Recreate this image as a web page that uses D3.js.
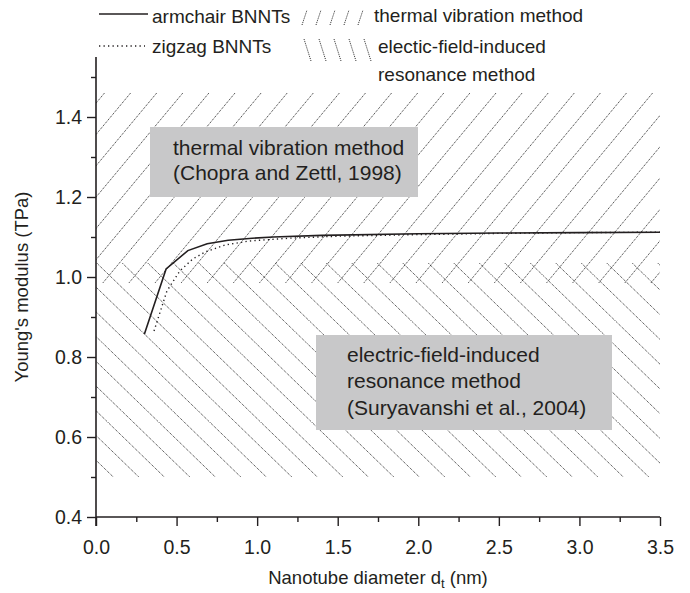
<!DOCTYPE html>
<html>
<head>
<meta charset="utf-8">
<script src="https://cdn.jsdelivr.net/npm/d3@7"></script>
<style>
  body { margin: 0; background: #fff; }
  text { font-family: "Liberation Sans", Arial, sans-serif; fill: #231f20; }
</style>
</head>
<body>
<script>
// axis ticks
const xTicks = [0, 0.5, 1.0, 1.5, 2.0, 2.5, 3.0, 3.5];
const xMinor = [0.25, 0.75, 1.25, 1.75, 2.25, 2.75, 3.25];
const yTicks = [0.4, 0.6, 0.8, 1.0, 1.2, 1.4];
const yMinor = [0.5, 0.7, 0.9, 1.1, 1.3, 1.5];

// armchair BNNTs: diameter (nm) / Young's modulus (TPa)
const armchairD = [0.30, 0.435, 0.57, 0.69, 0.82, 0.97, 1.10, 1.40, 2.00, 2.50, 3.00, 3.50];
const armchairE = [0.857, 1.020, 1.066, 1.083, 1.092, 1.097, 1.100, 1.104, 1.108, 1.110, 1.111, 1.112];

// zigzag BNNTs
const zigzagD = [0.36, 0.44, 0.52, 0.60, 0.68, 0.80, 0.95, 1.20, 1.50, 2.00, 2.50, 3.00, 3.50];
const zigzagE = [0.865, 0.965, 1.015, 1.045, 1.063, 1.080, 1.090, 1.097, 1.102, 1.106, 1.109, 1.111, 1.112];

// experimental ranges (TPa)
const thermalRange = [0.985, 1.46];   // Chopra and Zettl, 1998
const electricRange = [0.5, 1.035];   // Suryavanshi et al., 2004

const W = 690, H = 593;
const svg = d3.select('body').append('svg')
    .attr('width', W)
    .attr('height', H);

const x = d3.scaleLinear().domain([0, 3.5]).range([96, 660]);
const y = d3.scaleLinear().domain([0.4, 1.55]).range([517, 57]);

const ink = '#231f20';
const hatchStyle = s => s
  .attr('stroke', '#111')
  .attr('stroke-width', 0.9)
  .attr('stroke-dasharray', '1,1');

// ---- hatched bands ----
function band(id, range, slope, spacing, phase, forward) {
  const top = y(range[1]), bot = y(range[0]);
  const h = bot - top;
  svg.append('clipPath').attr('id', id)
    .append('rect')
      .attr('x', x(0)).attr('y', top)
      .attr('width', x(3.5) - x(0)).attr('height', h);
  const lines = [];
  for (let k = -40; k < 40; k++) {
    const xa = phase + k * spacing;
    if (forward) {
      // "/" : anchored on the top edge, running down-left
      lines.push([xa, top, xa - h / slope, bot]);
    } else {
      // "\" : anchored on the bottom edge, running up-left
      lines.push([xa, bot, xa - h / slope, top]);
    }
  }
  svg.append('g').attr('clip-path', `url(#${id})`)
    .selectAll('line').data(lines).enter().append('line')
      .attr('x1', d => d[0]).attr('y1', d => d[1])
      .attr('x2', d => d[2]).attr('y2', d => d[3])
      .call(hatchStyle);
}
band('clipE', electricRange, 0.97, 25.5, 113.3, false);
band('clipT', thermalRange, 1.2, 26.1, 156.7, true);

// ---- grey annotation boxes ----
const boxes = [
  { x: 150, y: 127, w: 268, h: 70, tx: 173, lines: ['thermal vibration method', '(Chopra and Zettl, 1998)'], b0: 155, dy: 25 },
  { x: 316, y: 335, w: 296, h: 95, tx: 347, lines: ['electric-field-induced', 'resonance method', '(Suryavanshi et al., 2004)'], b0: 361.5, dy: 26.7 }
];
boxes.forEach(b => {
  svg.append('rect')
    .attr('x', b.x).attr('y', b.y)
    .attr('width', b.w).attr('height', b.h)
    .attr('fill', '#c8c8c9');
  b.lines.forEach((t, i) => {
    svg.append('text')
      .attr('x', b.tx).attr('y', b.b0 + i * b.dy)
      .style('font-size', '21px')
      .text(t);
  });
});

// ---- curves ----
const line = d3.line().x(d => x(d[0])).y(d => y(d[1]));

svg.append('path')
  .datum(zigzagD.map((d, i) => [d, zigzagE[i]]))
  .attr('d', line)
  .attr('fill', 'none')
  .attr('stroke', ink)
  .attr('stroke-width', 1.4)
  .attr('stroke-dasharray', '1.3,3.2');

svg.append('path')
  .datum(armchairD.map((d, i) => [d, armchairE[i]]))
  .attr('d', line)
  .attr('fill', 'none')
  .attr('stroke', ink)
  .attr('stroke-width', 1.6);

// ---- axes ----
function styleAxis(g, labels) {
  g.select('.domain').remove();
  g.selectAll('.tick line').attr('stroke', ink).attr('stroke-width', 1.4);
  g.selectAll('.tick text').style('font-size', '19.5px').attr('fill', ink);
  if (!labels) g.selectAll('.tick text').remove();
}

svg.append('g')
    .attr('transform', `translate(0,${y(0.4)})`)
    .call(d3.axisBottom(x).tickValues(xTicks).tickFormat(d3.format('.1f')).tickSize(9).tickPadding(14))
    .call(g => styleAxis(g, true));
svg.append('g')
    .attr('transform', `translate(0,${y(0.4)})`)
    .call(d3.axisBottom(x).tickValues(xMinor).tickSize(5))
    .call(g => styleAxis(g, false));

svg.append('g')
    .attr('transform', `translate(${x(0)},0)`)
    .call(d3.axisLeft(y).tickValues(yTicks).tickFormat(d3.format('.1f')).tickSize(9).tickPadding(5))
    .call(g => styleAxis(g, true));
svg.append('g')
    .attr('transform', `translate(${x(0)},0)`)
    .call(d3.axisLeft(y).tickValues(yMinor).tickSize(5))
    .call(g => styleAxis(g, false));

// axis lines
svg.append('line')
  .attr('x1', x(0)).attr('x2', x(0))
  .attr('y1', y(1.55)).attr('y2', y(0.4) + 9)
  .attr('stroke', ink).attr('stroke-width', 1.6);
svg.append('line')
  .attr('x1', x(0)).attr('x2', x(3.5))
  .attr('y1', y(0.4)).attr('y2', y(0.4))
  .attr('stroke', ink).attr('stroke-width', 1.6);

// axis titles
const xt = svg.append('text')
    .attr('x', (x(0) + x(3.5)) / 2)
    .attr('y', 584)
    .attr('text-anchor', 'middle')
    .style('font-size', '18.5px');
xt.append('tspan').text('Nanotube diameter d');
xt.append('tspan').attr('dy', 4).style('font-size', '13px').text('t');
xt.append('tspan').attr('dy', -4).text(' (nm)');

svg.append('text')
    .attr('transform', `translate(28,${(y(0.4) + y(1.55)) / 2}) rotate(-90)`)
    .attr('text-anchor', 'middle')
    .style('font-size', '18.5px')
    .text("Young's modulus (TPa)");

// ---- legend ----
const lg = svg.append('g');
const lgFont = '19px';
lg.append('line').attr('x1', 99).attr('x2', 148).attr('y1', 14).attr('y2', 14)
  .attr('stroke', ink).attr('stroke-width', 1.5);
lg.append('text').attr('x', 152).attr('y', 23).style('font-size', lgFont).text('armchair BNNTs');
lg.append('line').attr('x1', 99).attr('x2', 145).attr('y1', 46).attr('y2', 46)
  .attr('stroke', ink).attr('stroke-width', 1.4).attr('stroke-dasharray', '1.3,3.2');
lg.append('text').attr('x', 152).attr('y', 53).style('font-size', lgFont).text('zigzag BNNTs');

const slashes = [302, 316, 330, 344, 358];
lg.selectAll('.fw').data(slashes).enter().append('line')
  .attr('x1', d => d).attr('y1', 25).attr('x2', d => d + 5).attr('y2', 10)
  .call(hatchStyle);
lg.append('text').attr('x', 374).attr('y', 22).style('font-size', lgFont).text('thermal vibration method');

const backs = [304, 319, 334, 349, 364];
lg.selectAll('.bw').data(backs).enter().append('line')
  .attr('x1', d => d).attr('y1', 39).attr('x2', d => d + 7).attr('y2', 61)
  .call(hatchStyle);
lg.append('text').attr('x', 378).attr('y', 53).style('font-size', lgFont).text('electic-field-induced');
lg.append('text').attr('x', 378).attr('y', 81).style('font-size', lgFont).text('resonance method');
</script>
</body>
</html>
